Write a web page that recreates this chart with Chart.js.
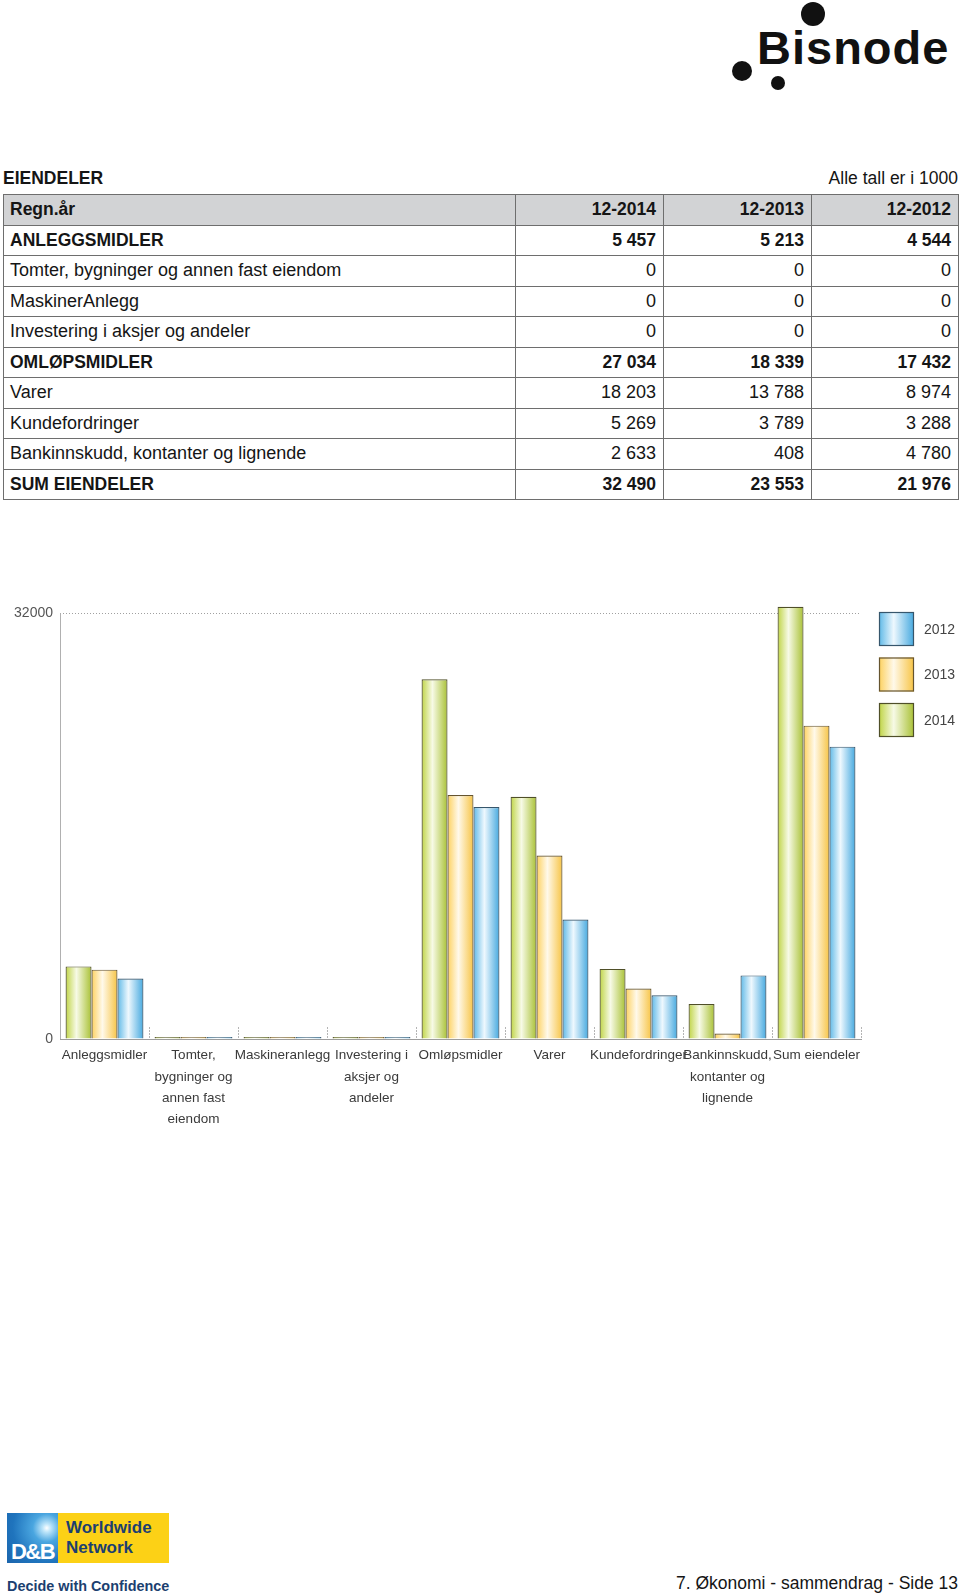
<!DOCTYPE html>
<html><head><meta charset="utf-8">
<script src="https://cdn.jsdelivr.net/npm/chart.js@4"></script>
<style>
html,body{margin:0;padding:0}
body{width:960px;height:1596px;position:relative;background:#fff;font-family:"Liberation Sans",Arial,Helvetica,sans-serif;color:#151515;overflow:hidden}
.abs{position:absolute}
.dot{position:absolute;background:#111;border-radius:50%}
#tbl{position:absolute;left:3px;top:194px;width:955px;border-collapse:collapse;table-layout:fixed}
#tbl td{border:1.5px solid #6e6e6e;padding:0 6px;height:29.5px;font-size:18px;white-space:nowrap;overflow:hidden;vertical-align:middle}
#tbl td.n{text-align:right;padding-right:7px}
#tbl tr.b td{font-weight:bold;font-size:17.5px}
#tbl tr.h td{background:#d2d3d5}
</style></head>
<body>
<!-- Bisnode logo -->
<div class="dot" style="left:801px;top:2px;width:24px;height:24px"></div>
<div class="dot" style="left:732px;top:61px;width:20px;height:20px"></div>
<div class="dot" style="left:771px;top:76px;width:14px;height:14px"></div>
<div class="abs" style="left:757px;top:24px;font-size:47px;line-height:47px;font-weight:bold;letter-spacing:1px;color:#111">Bisnode</div>

<div class="abs" style="left:3px;top:166px;font-size:17.5px;line-height:24px;font-weight:bold">EIENDELER</div>
<div class="abs" style="right:2px;top:166px;font-size:17.5px;line-height:24px">Alle tall er i 1000</div>

<table id="tbl"><colgroup><col style="width:512px"><col style="width:148px"><col style="width:148px"><col style="width:147px"></colgroup><tbody id="tb"></tbody></table>

<canvas id="c" width="960" height="560" class="abs" style="left:0;top:580px;width:960px;height:560px"></canvas>

<!-- D&B logo -->
<div class="abs" style="left:7px;top:1513px;width:51px;height:50px;background:radial-gradient(circle at 78% 30%,#ffffff 0px,#bfe6fa 4px,#4aa6e0 14px,#1f74bd 34px,#1a5fa6 60px);overflow:hidden">
  <div class="abs" style="left:0;top:27px;width:51px;text-align:center;font-size:22px;line-height:24px;font-weight:bold;color:#fff;letter-spacing:-1.5px">D&amp;B</div>
</div>
<div class="abs" style="left:58px;top:1513px;width:111px;height:50px;background:#fcd116">
  <div class="abs" style="left:8px;top:5px;font-size:17px;line-height:20px;font-weight:bold;color:#1c3f70">Worldwide<br>Network</div>
</div>
<div class="abs" style="left:7px;top:1577px;font-size:14.4px;line-height:18px;font-weight:bold;color:#1c3f70">Decide with Confidence</div>

<div class="abs" style="right:2px;top:1572px;font-size:17.5px;line-height:22px;color:#151515">7. Økonomi - sammendrag - Side 13</div>

<script>
// ---- data ----
const tableYears = ['12-2014', '12-2013', '12-2012'];
const tableRowLabels = ['ANLEGGSMIDLER', 'Tomter, bygninger og annen fast eiendom', 'MaskinerAnlegg', 'Investering i aksjer og andeler', 'OMLØPSMIDLER', 'Varer', 'Kundefordringer', 'Bankinnskudd, kontanter og lignende', 'SUM EIENDELER'];
const boldRows = [0, 4, 8];
const categories = ['Anleggsmidler', ['Tomter,', 'bygninger og', 'annen fast', 'eiendom'], 'Maskineranlegg', ['Investering i', 'aksjer og', 'andeler'], 'Omløpsmidler', 'Varer', 'Kundefordringer', ['Bankinnskudd,', 'kontanter og', 'lignende'], 'Sum eiendeler'];
const values2014 = [5457, 0, 0, 0, 27034, 18203, 5269, 2633, 32490];
const values2013 = [5213, 0, 0, 0, 18339, 13788, 3789, 408, 23553];
const values2012 = [4544, 0, 0, 0, 17432, 8974, 3288, 4780, 21976];
const seriesNames = ['2014', '2013', '2012'];
const yTicks = [0, 32000];

// ---- table ----
function fmt(v){ return String(v).replace(/\B(?=(\d{3})+(?!\d))/g, ' '); }
const tb = document.getElementById('tb');
let html = '<tr class="h b"><td>Regn.år</td>' + tableYears.map(y => '<td class="n">' + y + '</td>').join('') + '</tr>';
tableRowLabels.forEach((lab, i) => {
  html += '<tr' + (boldRows.includes(i) ? ' class="b"' : '') + '><td>' + lab + '</td>' +
    [values2014[i], values2013[i], values2012[i]].map(v => '<td class="n">' + fmt(v) + '</td>').join('') + '</tr>';
});
tb.innerHTML = html;

// ---- chart ----
const FONT = '"Liberation Sans", Arial, Helvetica, sans-serif';
const CAT_PCT = 0.875;
const palettes = [
  {edge: '#bfd444', mid: '#f7fae6', edge2: '#a9c135', border: '#4f4f28'},
  {edge: '#fdd15e', mid: '#fff9ea', edge2: '#f7c445', border: '#65542f'},
  {edge: '#5fb9e7', mid: '#eef8fe', edge2: '#46a9df', border: '#36566c'}
];
function grad(c, x0, w, p){
  const g = c.createLinearGradient(x0, 0, x0 + w, 0);
  g.addColorStop(0, p.edge);
  g.addColorStop(0.42, p.mid);
  g.addColorStop(1, p.edge2);
  return g;
}
function barFill(ctx){
  const p = palettes[ctx.datasetIndex];
  const chart = ctx.chart;
  const xs = chart.scales && chart.scales.x;
  if (ctx.type !== 'data' || !xs || !xs.width) return p.edge;
  const catW = xs.width / categories.length;
  const groupW = catW * CAT_PCT, barW = groupW / 3;
  const left = xs.getPixelForValue(ctx.dataIndex) - groupW / 2 + ctx.datasetIndex * barW;
  return grad(chart.ctx, left, barW, p);
}

const decor = {
  id: 'decor',
  beforeDatasetsDraw(chart){
    const c = chart.ctx, ca = chart.chartArea;
    const ys = chart.scales.y;
    const n = categories.length, catW = (ca.right - ca.left) / n;
    c.save();
    // y axis line from 0 to the top tick
    c.strokeStyle = '#b0b0b0';
    c.lineWidth = 1;
    const ax = Math.round(ca.left) + 0.5;
    c.beginPath(); c.moveTo(ax, ys.getPixelForValue(yTicks[yTicks.length - 1])); c.lineTo(ax, ca.bottom); c.stroke();
    // small separators at category boundaries
    c.strokeStyle = '#b5b5b5';
    c.setLineDash([2, 1]);
    for (let k = 1; k <= n; k++) {
      const x = Math.round(ca.left + k * catW) + 0.5;
      c.beginPath(); c.moveTo(x, ca.bottom - 12); c.lineTo(x, ca.bottom); c.stroke();
    }
    c.restore();
  },
  afterDraw(chart){
    const c = chart.ctx, ca = chart.chartArea;
    const order = [2, 1, 0];
    const lx = ca.right + 18;
    c.save();
    order.forEach((di, i) => {
      const y = ca.top + 12 + i * 45.5;
      const p = palettes[di];
      c.fillStyle = grad(c, lx, 35, p);
      c.fillRect(lx, y, 35, 34);
      c.strokeStyle = p.border;
      c.lineWidth = 1.2;
      c.strokeRect(lx + 0.5, y + 0.5, 34, 33);
      c.fillStyle = '#444';
      c.font = '14px ' + FONT;
      c.textBaseline = 'middle';
      c.fillText(seriesNames[di], lx + 45, y + 18);
    });
    c.restore();
  }
};

new Chart(document.getElementById('c'), {
  type: 'bar',
  data: {
    labels: categories,
    datasets: [values2014, values2013, values2012].map((d, i) => ({
      label: seriesNames[i],
      data: d,
      backgroundColor: barFill,
      borderColor: palettes[i].border,
      borderWidth: 1.2,
      borderSkipped: 'start',
      minBarLength: 2,
      categoryPercentage: CAT_PCT,
      barPercentage: 1
    }))
  },
  options: {
    responsive: false,
    animation: false,
    devicePixelRatio: 1,
    layout: {padding: {top: 20, right: 99, left: 0, bottom: 0}},
    plugins: {legend: {display: false}, tooltip: {enabled: false}},
    scales: {
      x: {
        afterFit(s){ s.height = 101; },
        grid: {display: false, drawTicks: false},
        border: {display: true, color: '#9d9d9d', width: 1},
        ticks: {color: '#3a3a3a', font: {size: 13.5, family: FONT, lineHeight: 1.58}, padding: 6, maxRotation: 0, autoSkip: false}
      },
      y: {
        min: 0, max: 33000,
        afterFit(s){ s.width = 60; },
        afterBuildTicks(s){ s.ticks = yTicks.map(v => ({value: v})); },
        grid: {color: ctx => (ctx.tick && ctx.tick.value === 0) ? 'rgba(0,0,0,0)' : '#a0a0a0', drawTicks: false, lineWidth: 1},
        border: {display: false, dash: [1, 2]},
        ticks: {color: '#555', font: {size: 14, family: FONT}, padding: 7, callback: v => String(v)}
      }
    }
  },
  plugins: [decor]
});
</script>
</body></html>
